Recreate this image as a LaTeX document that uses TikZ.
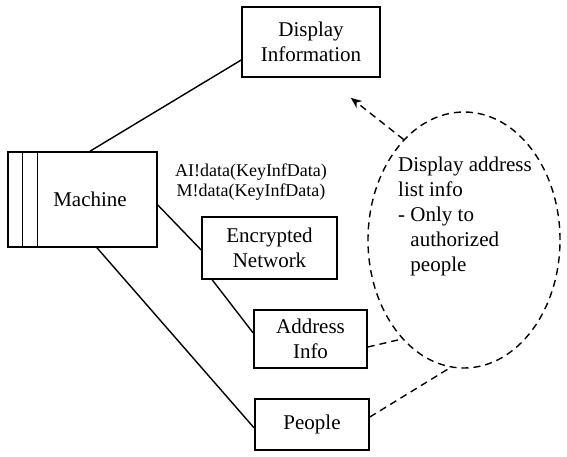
\documentclass[tikz,border=0pt]{standalone}
\usepackage{fontspec}
\setmainfont{Liberation Serif}
\newfontfamily\diagfont{Liberation Serif}
\usetikzlibrary{arrows.meta}
\usetikzlibrary{shapes.geometric}
\usetikzlibrary{positioning}
\newcommand{\bigtext}{\diagfont\fontsize{21}{25}\selectfont}
\newcommand{\smalltext}{\diagfont\fontsize{18}{20}\selectfont}
\tikzstyle{entity}=[
  draw,
  line width=1.6pt,
  inner sep=0pt,
  align=center,
  font=\bigtext
]
\tikzstyle{link}=[
  line width=1.4pt
]
\tikzstyle{dlink}=[
  line width=1.4pt,
  dash pattern=on 7pt off 5pt
]

\begin{document}
\begin{tikzpicture}[x=1pt, y=-1pt]
  \useasboundingbox (0,0) rectangle (567,456);

  \node[entity, minimum width=138pt, minimum height=70pt] (disp)   at (311,  42)  {Display\\Information};
  \node[entity, minimum width=149pt, minimum height=95pt,
        label={[xshift=7.5pt, font=\bigtext]center:Machine}] (mach) at (82.5, 199.5) {};
  \node[entity, minimum width=135pt, minimum height=62pt] (enc)    at (269.5, 248) {Encrypted\\Network};
  \node[entity, minimum width=113pt, minimum height=58pt] (addr)   at (310.5, 339) {Address\\Info};
  \node[entity, minimum width=114pt, minimum height=51pt] (people) at (312, 424.5) {People};
  \node[ellipse, draw, dlink, minimum width=192pt, minimum height=256pt] (ell) at (464, 240) {};
  \node[anchor=west, align=left, inner sep=0pt, font=\bigtext] (note) at (398, 216)
        {Display address\\list info\\- Only to\\\hphantom{- }authorized\\\hphantom{- }people};
  \node[align=center, inner sep=0pt, font=\smalltext] (msg) at (251, 182)
        {AI!data(KeyInfData)\\M!data(KeyInfData)};

  % machine side strips
  \draw[link] ([xshift=15pt]mach.north west) -- ([xshift=15pt]mach.south west);
  \draw[link] ([xshift=30pt]mach.north west) -- ([xshift=30pt]mach.south west);

  \draw[link] ([xshift=7.5pt]mach.north) -- ([yshift=-18pt]disp.west);
  \draw[link] ([yshift=-5.5pt]mach.east) -- ([yshift=-2pt]enc.west);
  \draw[link] ([xshift=11pt]enc.south west) -- ([yshift=6pt]addr.west);
  \draw[link] ([xshift=14.5pt]mach.south) -- ([yshift=-3.5pt]people.west);

  \coordinate (tip) at ([xshift=-30pt, yshift=-20pt]disp.south east);
  \draw[dlink, -{Stealth[length=11pt, width=9pt]}] (ell.121) -- (tip);
  \draw[dlink] ([yshift=-8pt]addr.east) -- (ell.238);
  \draw[dlink] ([yshift=7.5pt]people.east) -- (ell.264);
\end{tikzpicture}
\end{document}
